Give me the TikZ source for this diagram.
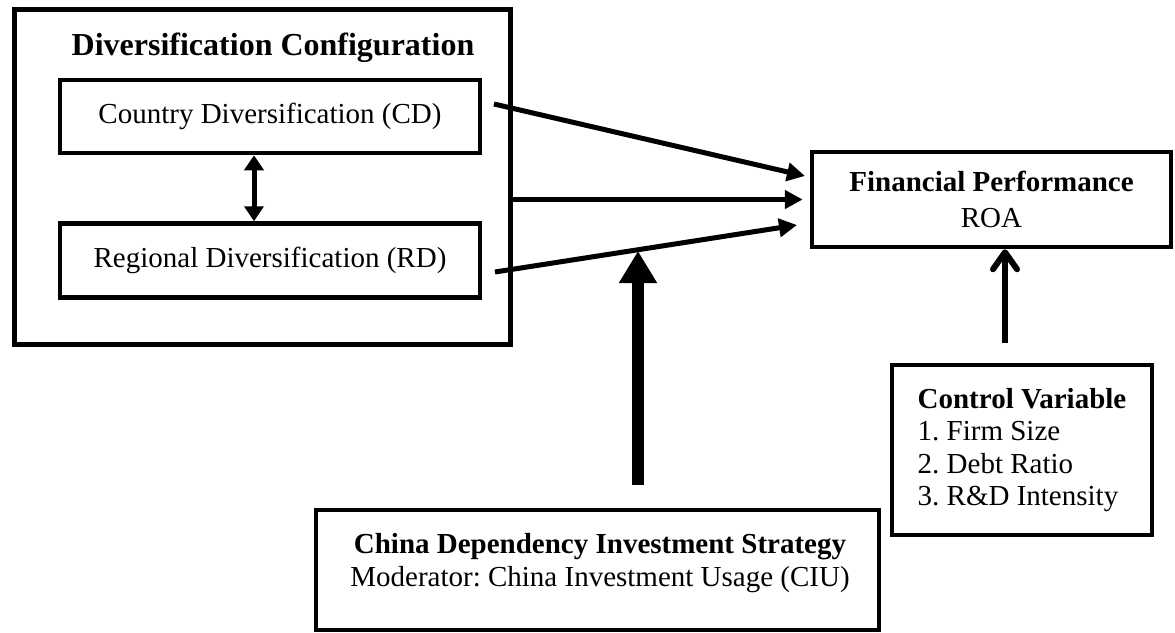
\documentclass[tikz,border=0pt]{standalone}
\usepackage{fontspec}
\setmainfont{Liberation Serif}
\usetikzlibrary{positioning,arrows.meta}
\frenchspacing

\begin{document}
\begin{tikzpicture}[
        x=1pt,
        y=-1pt,
        frame/.style={
            rectangle,
            draw,
            line width=4.5pt,
            inner sep=0pt,
            align=center,
            font=\fontsize{29}{34}\selectfont
        },
        txt/.style={
            inner sep=0pt,
            align=center,
            font=\fontsize{29}{33}\selectfont
        },
        link/.style={
            line width=5pt,
            -{Triangle[length=18pt,width=18pt]}
        },
        modlink/.style={
            line width=12pt,
            -{Triangle[length=32pt,width=36pt]}
        },
        ctrllink/.style={
            line width=6pt,
            -{Straight Barb[length=17pt,width=24pt,round]}
        }
    ]
        \useasboundingbox (0,0) rectangle (1175,632);

        \node[frame, line width=5pt, minimum width=496pt, minimum height=335pt] (divconf) at (262,176.5) {};
        \node[frame, minimum width=420pt, minimum height=73pt]  (cd)       at (270,116.5)           {Country Diversification (CD)};
        \node[frame, minimum width=420pt, minimum height=74pt]  (rd)       [below=66pt of cd]       {Regional Diversification (RD)};
        \node[txt, font=\fontsize{32}{38}\selectfont\bfseries]  (divtitle) at (273,48)              {Diversification Configuration};

        \node[frame, font=\fontsize{29}{36}\selectfont, minimum width=359pt, minimum height=95pt] (fp) at (991.5,199.5)
            {\textbf{Financial Performance}\\ROA};
        \node[frame, align=left, font=\fontsize{29}{32.5}\selectfont, minimum width=260pt, minimum height=170pt] (ctrl) at (1022,450)
            {\textbf{Control Variable}\\1. Firm Size\\2. Debt Ratio\\3. R\&D Intensity};
        \node[frame, minimum width=563pt, minimum height=120pt] (ciu)     at (597.5,570) {};
        \node[txt]                                              (ciutext) at (600,563)
            {\textbf{China Dependency Investment Strategy}\\Moderator: China Investment Usage (CIU)};

        \coordinate (cdout)  at (494,104);
        \coordinate (rdout)  at (495,272);
        \coordinate (fpin1)  at (805,176);
        \coordinate (fpin3)  at (797,225);
        \coordinate (modtip) at (638,251);

        \draw[line width=5pt, {Triangle[length=15pt,width=19pt]}-{Triangle[length=15pt,width=19pt]}]
            ([xshift=-16pt]cd.south) -- ([xshift=-16pt]rd.north);
        \draw[link] (cdout) -- (fpin1);
        \draw[link] (divconf.east |- fp.west) -- ([xshift=-7pt]fp.west);
        \draw[link] (rdout) -- (fpin3);
        \draw[modlink] ([xshift=40.5pt,yshift=23pt]ciu.north) -- (modtip);
        \draw[ctrllink] ([xshift=-17pt,yshift=20pt]ctrl.north) -- ([xshift=13.5pt]fp.south);
    \end{tikzpicture}
\end{document}
